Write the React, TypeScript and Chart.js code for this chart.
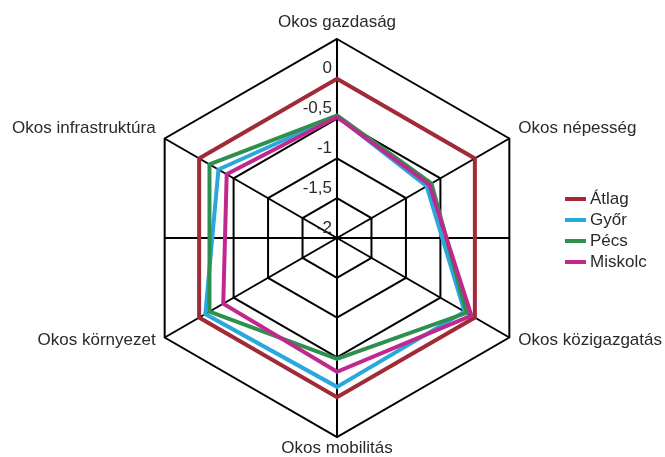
import React, { useEffect, useRef } from 'react';
import { Chart, registerables } from 'chart.js';

Chart.register(...registerables);

const categories = [
  'Okos gazdaság',
  'Okos népesség',
  'Okos közigazgatás',
  'Okos mobilitás',
  'Okos környezet',
  'Okos infrastruktúra',
];
const seriesNames = ['Átlag', 'Győr', 'Pécs', 'Miskolc'];
const atlag = [0, 0, 0, 0, 0, 0];
const gyor = [-0.47, -0.7, -0.15, -0.13, -0.09, -0.28];
const pecs = [-0.46, -0.63, -0.12, -0.48, -0.15, -0.15];
const miskolc = [-0.48, -0.66, -0.05, -0.32, -0.35, -0.4];
const tickValues = [-2, -1.5, -1, -0.5, 0];
const tickLabels = ['-2', '-1,5', '-1', '-0,5', '0'];
const seriesColors = ['#a02a36', '#2aa8dc', '#2f8f4e', '#c0288e'];

const FONT = '17px "Liberation Sans", Arial, sans-serif';
const TEXT = '#2a2a2a';

const overlayPlugin = {
  id: 'overlay',
  beforeDatasetsDraw(chart: any) {
    const s = chart.scales.r;
    const ctx = chart.ctx;
    const half = s.drawingArea * Math.cos(Math.PI / 6);
    ctx.save();
    ctx.strokeStyle = '#000';
    ctx.lineWidth = 2;
    ctx.beginPath();
    ctx.moveTo(s.xCenter - half, s.yCenter);
    ctx.lineTo(s.xCenter + half, s.yCenter);
    ctx.stroke();

    ctx.font = FONT;
    ctx.fillStyle = TEXT;
    ctx.textAlign = 'right';
    ctx.textBaseline = 'middle';
    tickValues.forEach((v, i) => {
      const d = s.getDistanceFromCenterForValue(v);
      ctx.fillText(tickLabels[i], s.xCenter - 5, s.yCenter - d - 10);
    });
    ctx.restore();
  },
  afterDatasetsDraw(chart: any) {
    const s = chart.scales.r;
    const ctx = chart.ctx;
    ctx.save();
    ctx.font = FONT;
    ctx.fillStyle = TEXT;
    ctx.textBaseline = 'middle';
    categories.forEach((c, i) => {
      const p = s.getPointPosition(i, s.drawingArea);
      const dx = p.x - s.xCenter;
      const dy = p.y - s.yCenter;
      if (Math.abs(dx) < 1) {
        ctx.textAlign = 'center';
        ctx.fillText(c, p.x, dy < 0 ? p.y - 17 : p.y + 11);
      } else {
        ctx.textAlign = dx > 0 ? 'left' : 'right';
        ctx.fillText(c, p.x + (dx > 0 ? 9 : -9), p.y + (dy < 0 ? -10 : 3));
      }
    });

    // legend
    const lx = 565;
    const ly = 199;
    chart.data.datasets.forEach((ds: any, i: number) => {
      const y = ly + i * 21;
      ctx.strokeStyle = ds.borderColor;
      ctx.lineWidth = 4;
      ctx.beginPath();
      ctx.moveTo(lx, y);
      ctx.lineTo(lx + 21, y);
      ctx.stroke();
      ctx.textAlign = 'left';
      ctx.fillStyle = TEXT;
      ctx.fillText(ds.label, lx + 25, y);
    });
    ctx.restore();
  },
};

export default function App() {
  const ref = useRef<HTMLCanvasElement>(null);
  useEffect(() => {
    if (!ref.current) return;
    const data = [atlag, gyor, pecs, miskolc];
    const chart = new Chart(ref.current, {
      type: 'radar',
      data: {
        labels: categories,
        datasets: seriesNames.map((name, i) => ({
          label: name,
          data: data[i],
          borderColor: seriesColors[i],
          backgroundColor: seriesColors[i],
          borderWidth: 4,
          fill: false,
          pointRadius: 0,
          tension: 0,
          order: seriesNames.length - i,
        })),
      },
      options: {
        responsive: false,
        animation: false,
        devicePixelRatio: 1,
        plugins: { legend: { display: false }, tooltip: { enabled: false } },
        scales: {
          r: {
            min: -2,
            max: 0.5,
            ticks: { display: false, stepSize: 0.5 },
            grid: { color: '#000', lineWidth: 2 },
            angleLines: { color: '#000', lineWidth: 2 },
            pointLabels: { display: false },
            afterFit: (scale: any) => {
              scale.xCenter = 337;
              scale.yCenter = 238;
              scale.drawingArea = 199;
            },
          },
        },
      },
      plugins: [overlayPlugin],
    } as any);
    return () => chart.destroy();
  }, []);
  return (
    <div style={{ position: 'absolute', left: 0, top: 0, width: 665, height: 457, background: '#fff' }}>
      <canvas ref={ref} width={665} height={457} />
    </div>
  );
}
